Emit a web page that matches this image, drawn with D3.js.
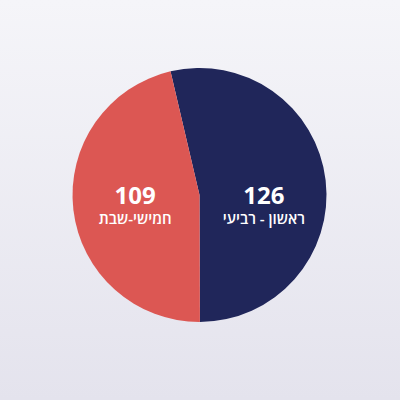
<!DOCTYPE html>
<html>
<head>
<meta charset="utf-8">
<script src="https://cdn.jsdelivr.net/npm/d3@7"></script>
<style>
  html, body { margin: 0; padding: 0; }
  body { width: 400px; height: 400px; overflow: hidden; }
</style>
</head>
<body>
<div id="chart"></div>
<script>
// chart data
const labels = ['ראשון - רביעי', 'חמישי-שבת']
const values = [126, 109]
const colors = ['#20265a', '#dc5753']

const width = 400
const height = 400
const cx = 199.5
const cy = 195
const radius = 127

const svg = d3.select('#chart')
    .append('svg')
    .attr('width', width)
    .attr('height', height)

// background gradient
const grad = svg.append('defs').append('linearGradient')
    .attr('id', 'bg')
    .attr('x1', 0).attr('y1', 0)
    .attr('x2', 0).attr('y2', 1)
grad.append('stop').attr('offset', '0%').attr('stop-color', '#f5f5f9')
grad.append('stop').attr('offset', '100%').attr('stop-color', '#e4e3ed')

svg.append('rect')
    .attr('width', width)
    .attr('height', height)
    .attr('fill', 'url(#bg)')

const pie = d3.pie()
    .sort(null)
    .startAngle(-13.2 * Math.PI / 180)
    .endAngle((360 - 13.2) * Math.PI / 180)

const arcs = pie(values)

const arc = d3.arc().innerRadius(0).outerRadius(radius)
const labelArc = d3.arc().innerRadius(0).outerRadius(radius * 1.02)

const g = svg.append('g')
    .attr('transform', 'translate(' + cx + ',' + cy + ')')

g.selectAll('path')
    .data(arcs)
    .enter()
    .append('path')
    .attr('d', arc)
    .attr('fill', (d, i) => colors[i])

// labels: value + day range
const lab = g.selectAll('.lab')
    .data(arcs)
    .enter()
    .append('g')
    .attr('class', 'lab')
    .attr('transform', d => 'translate(' + labelArc.centroid(d)[0] + ',0)')

lab.append('text')
    .attr('y', 9)
    .attr('text-anchor', 'middle')
    .attr('fill', '#ffffff')
    .style('font-family', '"Open Sans", "Noto Sans", sans-serif')
    .style('font-weight', 700)
    .style('font-size', '24px')
    .text((d, i) => values[i])

lab.append('text')
    .attr('y', 29)
    .attr('text-anchor', 'middle')
    .attr('fill', '#ffffff')
    .style('font-family', '"Open Sans", "Noto Sans", sans-serif')
    .style('font-weight', 600)
    .style('font-size', '15px')
    .text((d, i) => labels[i])
</script>
</body>
</html>
